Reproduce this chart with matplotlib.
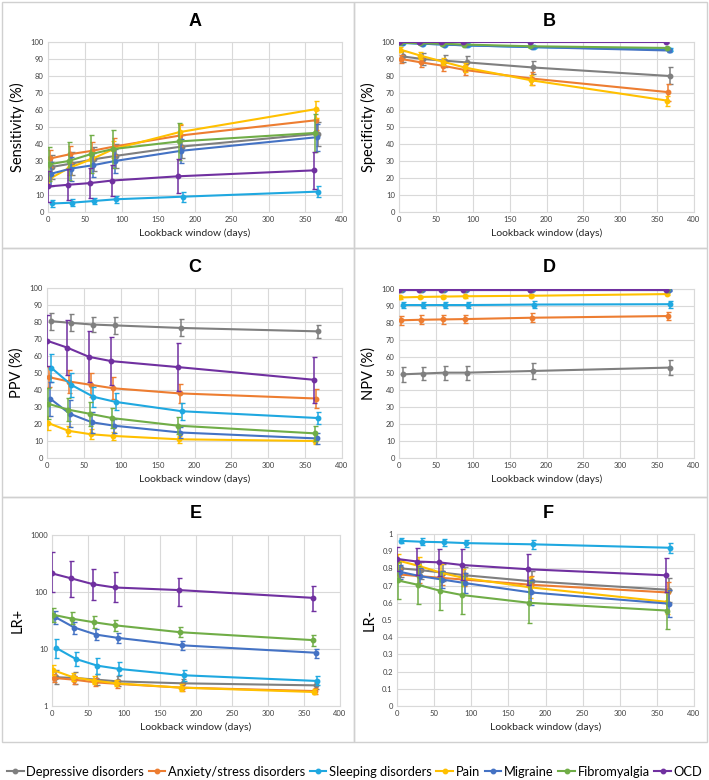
import matplotlib.pyplot as plt
from matplotlib.patches import Rectangle
from matplotlib.lines import Line2D
import numpy as np

plt.rcParams['font.family'] = ['Lato', 'DejaVu Sans']

# lookback windows (days)
days = [3, 30, 60, 90, 180, 365]

names = ["Depressive disorders", "Anxiety/stress disorders", "Sleeping disorders",
         "Pain", "Migraine", "Fibromyalgia", "OCD"]
colors = ["#7F7F7F", "#ED7D31", "#1FA8E0", "#FFC000", "#4472C4", "#70AD47", "#7030A0"]

# A - sensitivity (%), values and +/- errors
sens = [[26.5, 28.5, 31, 33, 38.5, 46],
        [31.5, 34, 36, 38.5, 45, 54],
        [5, 5.5, 6.5, 7.5, 9, 12],
        [19.5, 26, 31, 37, 47, 60.5],
        [22.5, 25.5, 27.5, 30, 36, 44],
        [28, 30, 34, 37, 41.5, 46.5],
        [15, 16, 17, 18.5, 21, 24.5]]
sens_err = [[7, 7, 7, 7, 7, 7],
            [5, 5, 5, 5, 6, 6],
            [2, 2, 2, 2, 3, 3],
            [4, 4, 4, 5, 5, 5],
            [7, 7, 7, 7, 7, 8],
            [10, 11, 11, 11, 11, 11],
            [9, 9, 9, 9, 10, 11]]

# B - specificity (%)
spec = [[91.5, 90, 89, 88, 85, 80],
        [90, 88, 86, 83.5, 78.5, 70.5],
        [99.5, 99, 98.5, 98, 97, 95.5],
        [95.5, 92, 88.5, 85, 77.5, 65.5],
        [99.5, 99, 98.5, 98, 97, 95],
        [99.5, 99.3, 99, 98.5, 97.5, 96.5],
        [99.8, 99.8, 99.8, 99.8, 99.8, 99.8]]
spec_err = [[3, 3.5, 3.5, 3.5, 4, 5],
            [2.5, 2.5, 3, 3, 4, 5],
            [0.3, 0.4, 0.5, 0.5, 0.6, 0.8],
            [1.5, 2, 2, 2.5, 3, 3],
            [0.3, 0.4, 0.5, 0.5, 0.6, 0.8],
            [0.3, 0.4, 0.5, 0.5, 0.6, 0.8],
            [0.1, 0.1, 0.1, 0.1, 0.1, 0.1]]

# C - PPV (%)
ppv = [[80.5, 79.5, 78.5, 78, 76.5, 74.5],
       [47.5, 45, 43, 41, 38, 35],
       [53, 43, 36, 33, 27.5, 23.5],
       [20.5, 16, 14, 13, 11, 10],
       [35, 26, 21, 19, 15, 11.5],
       [32, 28.5, 26, 23.5, 19, 14.5],
       [69, 65, 59.5, 57, 53.5, 46]]
ppv_err = [[5, 5, 4.5, 5, 5, 4],
           [6, 7, 7, 6.5, 5.5, 5.5],
           [8, 7, 6, 5, 5, 3.5],
           [4, 3, 3, 2.5, 2, 1.5],
           [10, 8, 6, 4, 3, 3],
           [9, 7, 7, 6, 5, 4.5],
           [15, 16, 15, 14, 14, 13.5]]

# D - NPV (%)
npv = [[49.5, 50, 50.5, 50.5, 51.5, 53.5],
       [81.5, 81.8, 82, 82.2, 83, 84],
       [90.5, 90.5, 90.5, 90.5, 90.8, 91],
       [95, 95.3, 95.5, 95.7, 96, 97],
       [99.3, 99.3, 99.3, 99.3, 99.3, 99.3],
       [99.5, 99.5, 99.5, 99.5, 99.5, 99.5],
       [99.4, 99.4, 99.4, 99.4, 99.4, 99.4]]
npv_err = [[4.5, 4, 4.2, 4.2, 4.5, 4.6],
           [2.7, 2.7, 2.6, 2.6, 2.6, 2.6],
           [2, 2, 2, 2, 2, 2],
           [0.8, 0.8, 0.8, 0.8, 0.8, 0.8],
           [0.3, 0.3, 0.3, 0.3, 0.3, 0.3],
           [0.3, 0.3, 0.3, 0.3, 0.3, 0.3],
           [0.2, 0.2, 0.2, 0.2, 0.2, 0.2]]

# E - LR+ (log), value, lower CI, upper CI
lrp = [[3.2, 3.1, 2.9, 2.7, 2.5, 2.3],
       [3.1, 2.9, 2.6, 2.45, 2.1, 1.83],
       [10.4, 6.7, 5.1, 4.47, 3.46, 2.75],
       [4.24, 3.2, 2.79, 2.5, 2.1, 1.76],
       [36.6, 23.8, 17.9, 15.7, 11.6, 8.6],
       [40, 34, 29.5, 26, 19.7, 14.3],
       [212, 173, 137, 120, 108, 79]]
lrp_lo = [[2.4, 2.4, 2.3, 2.2, 2.1, 2.0],
          [2.6, 2.4, 2.2, 2.1, 1.85, 1.65],
          [7, 5, 3.6, 3.5, 2.8, 2.3],
          [3.5, 2.7, 2.4, 2.2, 1.85, 1.6],
          [28, 18.5, 14.5, 12.5, 9.5, 7],
          [30, 27, 23, 21, 16, 11.5],
          [100, 82, 72, 67, 57, 46]]
lrp_hi = [[4.2, 4.0, 3.6, 3.4, 3.0, 2.6],
          [3.7, 3.4, 3.1, 2.9, 2.4, 2.05],
          [15, 9, 7, 5.8, 4.3, 3.3],
          [5.2, 3.8, 3.3, 2.9, 2.4, 1.95],
          [47, 30, 22, 19, 14, 10],
          [53, 44, 38, 32, 24, 17.5],
          [495, 350, 250, 225, 178, 130]]

# F - LR-
lrn = [[0.80, 0.79, 0.775, 0.76, 0.725, 0.675],
       [0.765, 0.755, 0.745, 0.735, 0.705, 0.66],
       [0.96, 0.955, 0.952, 0.947, 0.94, 0.92],
       [0.845, 0.815, 0.775, 0.745, 0.69, 0.605],
       [0.78, 0.755, 0.735, 0.715, 0.66, 0.595],
       [0.73, 0.705, 0.67, 0.645, 0.60, 0.555],
       [0.855, 0.84, 0.835, 0.82, 0.795, 0.76]]
lrn_err = [[0.05, 0.05, 0.05, 0.05, 0.06, 0.07],
           [0.03, 0.04, 0.04, 0.04, 0.05, 0.06],
           [0.015, 0.02, 0.02, 0.02, 0.025, 0.03],
           [0.04, 0.05, 0.05, 0.05, 0.06, 0.07],
           [0.04, 0.05, 0.05, 0.06, 0.07, 0.08],
           [0.11, 0.11, 0.11, 0.11, 0.12, 0.11],
           [0.07, 0.08, 0.08, 0.09, 0.09, 0.10]]

offsets = [2, 0, 3, -1, 1, -2, -3]

W, H = 709, 780
fig = plt.figure(figsize=(W / 100, H / 100), dpi=100)


def fx(px):
    return px / W


def fy(py):
    return 1 - py / H


# panel boxes
boxes = [(2, 2, 354, 248), (354, 2, 707, 248),
         (2, 248, 354, 497), (354, 248, 707, 497),
         (2, 497, 354, 742), (354, 497, 707, 742)]
for (x0, y0, x1, y1) in boxes:
    fig.add_artist(Rectangle((fx(x0), fy(y1)), fx(x1 - x0), (y1 - y0) / H,
                             transform=fig.transFigure, fill=False,
                             edgecolor="#D0D0D0", linewidth=1))

# axes rectangles in pixels: left, top, right, bottom
rects = [(48, 42, 342, 212), (399, 42, 694, 212),
         (47, 288, 342, 458), (399, 289, 694, 458),
         (52, 535, 340, 706), (397, 534, 694, 706)]
letters = ["A", "B", "C", "D", "E", "F"]
title_y = [22, 22, 268, 268, 513, 513]
ylabels = ["Sensitivity (%)", "Specificity (%)", "PPV (%)", "NPV (%)", "LR+", "LR-"]

panels = [(sens, sens_err), (spec, spec_err), (ppv, ppv_err), (npv, npv_err),
          (lrp, None), (lrn, lrn_err)]

for k, (l, t, r, b) in enumerate(rects):
    ax = fig.add_axes([fx(l), fy(b), fx(r - l), (b - t) / H])
    vals, errs = panels[k]
    for i in range(7):
        x = np.array(days) + offsets[i]
        y = np.array(vals[i])
        if k == 4:
            e = [y - np.array(lrp_lo[i]), np.array(lrp_hi[i]) - y]
        else:
            e = errs[i]
        ax.errorbar(x, y, yerr=e, color=colors[i], marker="o", markersize=3.2,
                    linewidth=1.5, elinewidth=1.1, capsize=1.8, capthick=1.0,
                    zorder=3 + i)
    ax.set_xlim(0, 400)
    ax.set_xticks(range(0, 401, 50))
    if k == 4:
        ax.set_yscale("log")
        ax.set_ylim(1, 1000)
        ax.set_yticks([1, 10, 100, 1000])
        ax.set_yticklabels(["1", "10", "100", "1000"])
        ax.minorticks_off()
    elif k == 5:
        ax.set_ylim(0, 1)
        ax.set_yticks(np.arange(0, 1.01, 0.1))
        ax.set_yticklabels(["0"] + ["%.1f" % v for v in np.arange(0.1, 0.95, 0.1)] + ["1"])
    else:
        ax.set_ylim(0, 100)
        ax.set_yticks(range(0, 101, 10))
    ax.grid(True, color="#D9D9D9", linewidth=0.8)
    ax.set_axisbelow(True)
    for s in ax.spines.values():
        s.set_color("#D9D9D9")
        s.set_linewidth(0.8)
    ax.tick_params(length=0, labelsize=5.5, pad=3, colors="#404040")
    ax.set_xlabel("Lookback window (days)", fontsize=7.5, color="#262626", labelpad=4)
    ax.set_ylabel(ylabels[k], fontsize=10.5, color="#000000", labelpad=4)
    cx = (l + r) / 2 if k % 2 == 0 else (l + r) / 2 + 3
    fig.text(fx(cx), fy(title_y[k]), letters[k], ha="center", va="center",
             fontsize=13, fontweight="bold", family="Liberation Sans")

handles = [Line2D([0], [0], color=c, marker="o", markersize=3.2, linewidth=1.5)
           for c in colors]
fig.legend(handles, names, loc="center", bbox_to_anchor=(0.5, fy(772)), ncol=7,
           frameon=False, fontsize=9.3, handlelength=1.3, handletextpad=0.2,
           columnspacing=0.35, borderaxespad=0)

fig.savefig("out.png", dpi=100)
